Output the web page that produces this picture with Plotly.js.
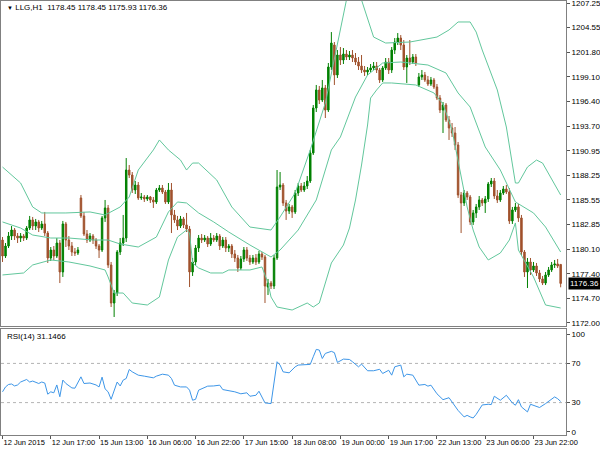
<!DOCTYPE html>
<html><head><meta charset="utf-8">
<script src="https://cdn.plot.ly/plotly-3.0.1.min.js"></script>
<style>html,body{margin:0;padding:0;background:#fff}#chart{width:600px;height:450px}</style>
</head><body><div id="chart"></div>
<script>
const symbolTitle = 'LLG,H1';
const lastBar = [1178.45, 1178.45, 1175.93, 1176.36];
const rsiName = 'RSI(14)';
const rsiLast = 31.1466;

const open = [1181.14,1179.38,1180.48,1181.58,1182.24,1181.58,1181.36,1181.58,1181.36,1182.46,
1183.35,1182.68,1183.13,1182.46,1182.91,1181.91,1179.16,1180.04,1179.38,1180.81,
1177.62,1182.91,1181.14,1180.48,1179.82,1179.71,1185.77,1183.79,1181.80,1181.14,
1181.58,1181.14,1180.48,1180.04,1183.57,1184.67,1178.39,1174.20,1175.30,1179.82,
1180.81,1181.36,1188.85,1188.30,1186.65,1187.20,1185.77,1185.88,1185.66,1185.88,
1185.55,1185.33,1186.65,1186.87,1186.43,1185.33,1186.65,1183.90,1183.35,1182.68,
1183.46,1182.80,1182.35,1177.62,1178.72,1180.26,1181.36,1181.14,1181.36,1180.70,
1181.36,1181.14,1181.58,1180.48,1181.14,1180.26,1180.48,1179.60,1179.16,1178.06,
1179.05,1180.04,1179.16,1178.72,1179.16,1178.72,1179.60,1179.27,1175.96,1176.40,
1176.07,1179.16,1186.98,1187.20,1185.22,1184.34,1184.78,1184.23,1186.32,1187.09,
1186.65,1187.09,1187.64,1190.73,1195.68,1197.67,1196.56,1197.89,1195.46,1200.20,
1202.62,1199.32,1201.52,1200.97,1201.63,1201.30,1201.52,1201.19,1200.75,1200.31,
1199.87,1199.65,1199.87,1200.09,1200.31,1199.87,1198.77,1200.09,1200.75,1199.87,
1202.07,1202.95,1203.39,1202.62,1200.20,1201.19,1200.75,1201.30,1198.22,1199.10,
1199.32,1198.77,1198.33,1198.77,1198.00,1196.78,1195.46,1196.01,1194.36,1193.48,
1192.93,1191.61,1186.10,1185.22,1186.32,1185.88,1183.13,1184.12,1184.78,1185.55,
1185.22,1185.66,1187.31,1187.64,1185.99,1185.55,1186.32,1186.76,1186.43,1183.24,
1184.45,1184.78,1183.57,1179.82,1177.62,1178.72,1177.84,1178.28,1177.51,1176.85,
1176.40,1177.29,1177.84,1178.39,1178.50,1178.45];
const high = [1181.47,1180.81,1182.02,1182.68,1182.46,1181.91,1181.91,1181.80,1182.68,1183.79,
1183.68,1183.46,1183.35,1183.24,1184.23,1182.13,1180.37,1180.48,1181.36,1181.14,
1183.24,1183.13,1181.58,1180.92,1180.26,1180.37,1186.10,1184.23,1182.24,1181.91,
1181.80,1181.36,1180.70,1183.79,1185.55,1185.00,1178.72,1175.63,1180.04,1181.36,
1183.90,1190.17,1189.40,1188.63,1187.64,1187.53,1186.32,1186.10,1186.10,1185.99,
1185.88,1186.87,1187.20,1187.20,1186.65,1187.42,1187.42,1184.45,1183.79,1183.79,
1183.68,1184.12,1182.68,1179.16,1180.59,1181.69,1181.80,1181.69,1181.58,1181.91,
1181.69,1181.91,1181.80,1181.47,1181.47,1180.70,1180.70,1180.04,1179.49,1179.38,
1180.37,1180.37,1179.49,1179.49,1179.60,1179.93,1179.82,1179.49,1176.85,1176.63,
1179.49,1188.85,1188.63,1187.42,1185.55,1185.11,1185.00,1186.65,1187.42,1187.42,
1187.53,1188.19,1191.06,1196.01,1198.22,1198.11,1198.77,1198.22,1200.64,1204.05,
1202.95,1202.07,1202.40,1202.29,1202.07,1201.96,1202.07,1201.74,1201.30,1201.52,
1200.31,1200.20,1200.53,1200.75,1200.75,1200.09,1200.31,1201.19,1201.19,1202.40,
1203.39,1203.94,1203.72,1203.17,1201.52,1203.17,1201.63,1201.63,1199.54,1199.87,
1199.65,1199.21,1199.10,1198.99,1198.33,1197.11,1196.34,1196.23,1194.80,1194.03,
1193.59,1191.94,1186.43,1186.65,1186.54,1186.10,1184.45,1185.11,1185.99,1185.77,
1185.99,1187.53,1187.97,1187.97,1186.65,1186.65,1187.09,1187.20,1186.87,1184.78,
1185.22,1185.11,1183.90,1180.04,1179.16,1179.16,1178.72,1178.61,1177.84,1177.18,
1177.62,1178.17,1178.72,1178.94,1179.05,1178.45];
const low = [1178.72,1179.16,1180.26,1181.14,1181.14,1180.81,1180.92,1181.03,1181.14,1182.24,
1182.24,1182.24,1182.02,1182.24,1181.58,1178.61,1178.83,1178.94,1179.16,1176.40,
1177.07,1180.37,1180.04,1179.38,1179.38,1179.49,1183.57,1181.58,1180.81,1180.92,
1180.70,1180.15,1179.16,1179.82,1183.13,1178.06,1173.76,1172.66,1174.97,1179.49,
1180.48,1180.92,1187.97,1186.32,1186.21,1185.55,1185.55,1185.33,1185.44,1185.22,
1184.67,1185.11,1186.43,1186.21,1185.11,1185.11,1181.91,1183.02,1182.24,1182.46,
1182.46,1182.02,1175.96,1177.18,1178.39,1179.82,1180.81,1180.92,1180.37,1180.48,
1180.92,1180.92,1180.04,1180.26,1179.82,1179.82,1179.16,1178.72,1177.62,1177.84,
1178.72,1178.83,1178.39,1178.50,1178.39,1178.50,1178.94,1174.20,1175.08,1175.74,
1175.74,1178.94,1186.65,1184.89,1183.35,1184.01,1183.57,1184.01,1185.99,1186.43,
1186.43,1186.76,1187.42,1190.51,1195.24,1196.12,1196.34,1194.58,1195.24,1199.87,
1198.22,1198.99,1200.42,1200.53,1200.97,1200.97,1200.75,1200.42,1199.87,1199.54,
1199.21,1199.32,1199.65,1199.87,1199.54,1198.44,1198.55,1199.87,1199.43,1199.54,
1201.63,1202.62,1202.07,1199.87,1198.44,1200.42,1200.53,1200.31,1198.00,1198.77,
1198.55,1198.11,1198.11,1197.78,1196.56,1195.13,1192.93,1194.14,1192.16,1192.49,
1191.06,1185.77,1181.91,1184.89,1185.55,1182.80,1182.80,1183.57,1184.45,1184.89,
1184.12,1185.33,1186.98,1185.66,1185.22,1185.33,1186.10,1186.21,1182.91,1182.91,
1184.23,1183.13,1179.49,1177.07,1175.85,1177.29,1177.62,1177.18,1176.51,1176.18,
1176.18,1177.07,1177.62,1178.06,1178.06,1175.93];
const close = [1179.38,1180.48,1181.58,1182.24,1181.58,1181.36,1181.58,1181.36,1182.46,1183.35,
1182.68,1183.13,1182.46,1182.91,1181.91,1179.16,1180.04,1179.38,1180.81,1177.62,
1182.91,1181.14,1180.48,1179.82,1179.71,1180.04,1183.79,1181.80,1181.14,1181.58,
1181.14,1180.48,1180.04,1183.57,1184.67,1178.39,1174.20,1175.30,1179.82,1180.81,
1181.36,1188.85,1188.30,1186.65,1187.20,1185.77,1185.88,1185.66,1185.88,1185.55,
1185.33,1186.65,1186.87,1186.43,1185.33,1186.65,1183.90,1183.35,1182.68,1183.46,
1182.80,1182.35,1177.62,1178.72,1180.26,1181.36,1181.14,1181.36,1180.70,1181.36,
1181.14,1181.58,1180.48,1181.14,1180.26,1180.48,1179.60,1179.16,1178.06,1179.05,
1180.04,1179.16,1178.72,1179.16,1178.72,1179.60,1179.27,1176.07,1176.40,1176.07,
1179.16,1186.98,1187.20,1185.22,1184.34,1184.78,1184.23,1186.32,1187.09,1186.65,
1187.09,1187.64,1190.73,1195.68,1197.67,1196.56,1197.89,1195.46,1200.20,1202.84,
1199.32,1201.52,1200.97,1201.63,1201.30,1201.52,1201.19,1200.75,1200.31,1199.87,
1199.65,1199.87,1200.09,1200.31,1199.87,1198.77,1200.09,1200.75,1199.87,1202.07,
1202.95,1203.39,1202.62,1200.20,1201.19,1200.75,1201.30,1200.64,1199.10,1199.32,
1198.77,1198.33,1198.77,1198.00,1196.78,1195.46,1196.01,1194.36,1193.48,1192.93,
1191.61,1186.10,1185.22,1186.32,1185.88,1183.13,1184.12,1184.78,1185.55,1185.22,
1185.66,1187.31,1187.64,1185.99,1185.55,1186.32,1186.76,1186.43,1183.24,1184.45,
1184.78,1183.57,1179.82,1177.62,1178.72,1177.84,1178.28,1177.51,1176.85,1176.40,
1177.29,1177.84,1178.39,1178.50,1178.28,1176.36];

const timeTickIdx = [0,16,32,48,64,80,96,112,128,144,160,176];
const timeTickText = ['12 Jun 2015','12 Jun 17:00','15 Jun 13:00','16 Jun 06:00','16 Jun 22:00','17 Jun 15:00','18 Jun 08:00','19 Jun 00:00','19 Jun 17:00','22 Jun 13:00','23 Jun 06:00','23 Jun 22:00'];
const priceTicks = [1207.25,1204.55,1201.80,1199.10,1196.40,1193.70,1190.95,1188.25,1185.55,1182.85,1180.10,1177.40,1174.70,1172.00];
const rsiTicks = [100,70,30,0];
const rsiLevels = [70,30];

const upperIdx = [0,6,10,13,21,29,34,39,42,45,50,52,55,59,61,63,65,71,76,82,89,92,97,102,107,114,117,119,123,127,135,144,148,151,155,157,159,164,167,170,171,174,177,179,185];
const upperVal = [1189.18,1187.42,1184.78,1184.12,1184.12,1184.23,1183.90,1184.78,1185.88,1188.85,1191.06,1192.16,1191.06,1189.95,1188.85,1189.62,1189.62,1187.75,1184.78,1182.57,1182.24,1183.68,1186.32,1191.06,1196.23,1207.58,1208.90,1207.58,1203.50,1202.84,1202.95,1203.50,1204.28,1205.16,1205.16,1204.05,1202.07,1197.67,1193.59,1187.42,1187.42,1189.18,1189.95,1189.62,1186.10];
const midIdx = [0,6,10,16,22,30,35,39,45,51,55,58,61,65,70,75,82,87,89,92,98,104,109,112,117,121,126,132,141,147,151,155,160,165,168,170,176,180,185];
const midVal = [1183.13,1182.46,1181.69,1181.36,1181.36,1181.14,1181.14,1180.70,1180.37,1181.47,1184.23,1185.33,1185.22,1184.12,1183.13,1182.02,1180.59,1179.71,1179.27,1180.04,1182.24,1185.55,1191.06,1192.49,1196.89,1199.32,1200.64,1200.75,1200.42,1199.54,1197.34,1195.79,1191.39,1188.85,1186.65,1185.33,1184.12,1182.57,1179.82];
const lowIdx = [0,7,10,16,22,29,34,35,37,40,43,48,52,55,58,61,62,63,65,69,73,75,82,86,88,89,91,96,101,103,105,109,113,115,117,119,121,122,124,126,129,137,143,146,149,151,154,156,158,161,165,168,170,171,176,180,185];
const lowVal = [1177.29,1177.51,1178.39,1178.94,1178.72,1178.28,1177.84,1177.07,1175.30,1175.30,1174.20,1173.98,1174.86,1178.94,1181.47,1182.24,1181.91,1178.61,1178.06,1177.51,1177.51,1177.84,1177.84,1178.17,1176.40,1174.86,1173.76,1173.43,1174.20,1173.76,1174.20,1178.61,1180.59,1182.46,1185.55,1189.40,1193.81,1196.78,1197.67,1198.44,1198.44,1198.22,1197.34,1196.12,1193.26,1189.95,1184.78,1182.24,1180.37,1178.94,1179.71,1181.14,1183.02,1180.04,1177.07,1173.98,1173.65];

const rsiIdx = [0,1,2,3,4,5,6,8,9,10,12,13,14,15,16,17,18,19,20,21,23,24,26,27,29,31,32,33,34,35,36,37,38,39,40,41,42,43,44,45,47,50,51,53,55,56,57,59,61,62,63,64,65,67,68,70,72,73,74,76,77,79,81,82,84,85,86,87,89,90,91,92,93,95,97,98,100,102,103,104,105,106,107,109,110,111,113,115,116,118,119,121,123,125,126,127,128,129,130,132,133,134,136,138,140,141,142,144,146,148,149,151,153,154,155,156,157,159,161,162,163,164,165,167,169,170,171,172,174,175,176,178,180,182,183,184,185];
const rsiVal = [41,46,48.5,49,47,48,51,53.6,51,52,49.5,51,50,38.6,41,40,48,36,53,49.5,45,44.7,56.3,49.5,50,48,46,56,44,41,33.4,42.7,51,47,53,54.6,63.8,61.4,59.7,58,57,55.3,57,59,58,54.6,47.8,46,46,42.7,32.4,33.4,42.7,46,46.8,47,47.8,43.3,42.7,41.6,41,39,40,36.5,37.5,41.6,35.8,29.7,29,49.5,71.7,68.3,61.4,60.4,66.5,68.3,69,69,76.8,84.3,83.6,75,80.2,82.3,81,71,74.4,74,71.7,66.5,69.3,62.5,62.5,64,59.7,61.4,63,58,66.5,68.3,56.3,59,58,47.8,48.5,46.8,47.8,39,33,35,30.7,22,15.4,17,15.4,14.3,18,27.6,28.3,28,36.5,34,32.4,37.5,29.7,27.3,33,25.6,20.5,28.3,27.3,25,29,33,35.8,34,31.1466];

const bars = open.map((_, i) => i);
const FONT = 'Liberation Sans, Arial, sans-serif';
const bandColor = '#62c79c';
const frame = '#808080';

const traces = [
  {type:'scatter', mode:'lines', x: upperIdx, y: upperVal, xaxis:'x2', yaxis:'y', line:{color:bandColor, width:1}, hoverinfo:'skip'},
  {type:'scatter', mode:'lines', x: midIdx, y: midVal, xaxis:'x2', yaxis:'y', line:{color:bandColor, width:1}, hoverinfo:'skip'},
  {type:'scatter', mode:'lines', x: lowIdx, y: lowVal, xaxis:'x2', yaxis:'y', line:{color:bandColor, width:1}, hoverinfo:'skip'},
  {type:'candlestick', x: bars, open: open, high: high, low: low, close: close, xaxis:'x2', yaxis:'y',
    increasing:{line:{color:'#008000', width:1}, fillcolor:'#008000'},
    decreasing:{line:{color:'#A0522D', width:1}, fillcolor:'#A0522D'},
    whiskerwidth:0, hoverinfo:'skip'},
  {type:'scatter', mode:'lines', x: rsiIdx, y: rsiVal, xaxis:'x', yaxis:'y2', line:{color:'#3d96e8', width:1}, hoverinfo:'skip'}
];

const xr = [-0.5, 186.77];
const layout = {
  width:600, height:450,
  margin:{l:1, r:34, t:1, b:15},
  paper_bgcolor:'#fff', plot_bgcolor:'#fff',
  showlegend:false,
  font:{family:FONT, size:8, color:'#000'},
  xaxis:{anchor:'y2', range:xr, showgrid:false, zeroline:false, showline:true, mirror:true, linecolor:frame, linewidth:1,
    tickmode:'array', tickvals:timeTickIdx, ticktext:timeTickText, ticks:'outside', ticklen:3, tickcolor:'#555',
    tickangle:0, ticklabelposition:'outside right', ticklabeloverflow:'allow', automargin:false,
    tickfont:{family:FONT, size:7.5, color:'#000'}, rangeslider:{visible:false}, fixedrange:true},
  xaxis2:{anchor:'y', matches:'x', range:xr, showgrid:false, zeroline:false, showline:true, mirror:true, linecolor:frame, linewidth:1,
    showticklabels:false, ticks:'', rangeslider:{visible:false}, fixedrange:true},
  yaxis:{domain:[0.2512,1], range:[1171.67,1207.47], side:'right', showgrid:false, zeroline:false, showline:true, mirror:true,
    linecolor:frame, linewidth:1, tickmode:'array', tickvals:priceTicks, ticktext:priceTicks.map(v=>v.toFixed(2)),
    ticks:'outside', ticklen:3, tickcolor:'#555', ticklabeloverflow:'allow', automargin:false,
    tickfont:{family:FONT, size:8, color:'#000'}, fixedrange:true},
  yaxis2:{domain:[0,0.2442], range:[-3.06,105.1], side:'right', showgrid:false, zeroline:false, showline:true, mirror:true,
    linecolor:frame, linewidth:1, tickmode:'array', tickvals:rsiTicks, ticktext:rsiTicks.map(String),
    ticks:'outside', ticklen:3, tickcolor:'#555', ticklabeloverflow:'allow', automargin:false,
    tickfont:{family:FONT, size:8, color:'#000'}, fixedrange:true},
  shapes: rsiLevels.map(v => ({type:'line', xref:'paper', x0:0, x1:1, yref:'y2', y0:v, y1:v,
    line:{color:'#b4b4b4', width:1, dash:'dot'}, layer:'below'})),
  annotations:[
    {xref:'paper', yref:'paper', x:0.007, y:0.984, xanchor:'left', yanchor:'middle', showarrow:false,
     text:'<span style="font-size:6px">▼</span> ' + symbolTitle + '  ' + lastBar.map(v=>v.toFixed(2)).join(' '),
     font:{family:FONT, size:8, color:'#000'}},
    {xref:'paper', yref:'paper', x:0.007, y:0.228, xanchor:'left', yanchor:'middle', showarrow:false,
     text: rsiName + ' ' + rsiLast.toFixed(4), font:{family:FONT, size:8, color:'#000'}},
    {xref:'paper', yref:'y', x:1, y:lastBar[3], xanchor:'left', yanchor:'middle', xshift:2, showarrow:false,
     text: lastBar[3].toFixed(2), bgcolor:'#000', borderpad:1, font:{family:FONT, size:8, color:'#fff'}}
  ]
};

Plotly.newPlot('chart', traces, layout, {staticPlot:true, displayModeBar:false});
</script>
</body></html>
